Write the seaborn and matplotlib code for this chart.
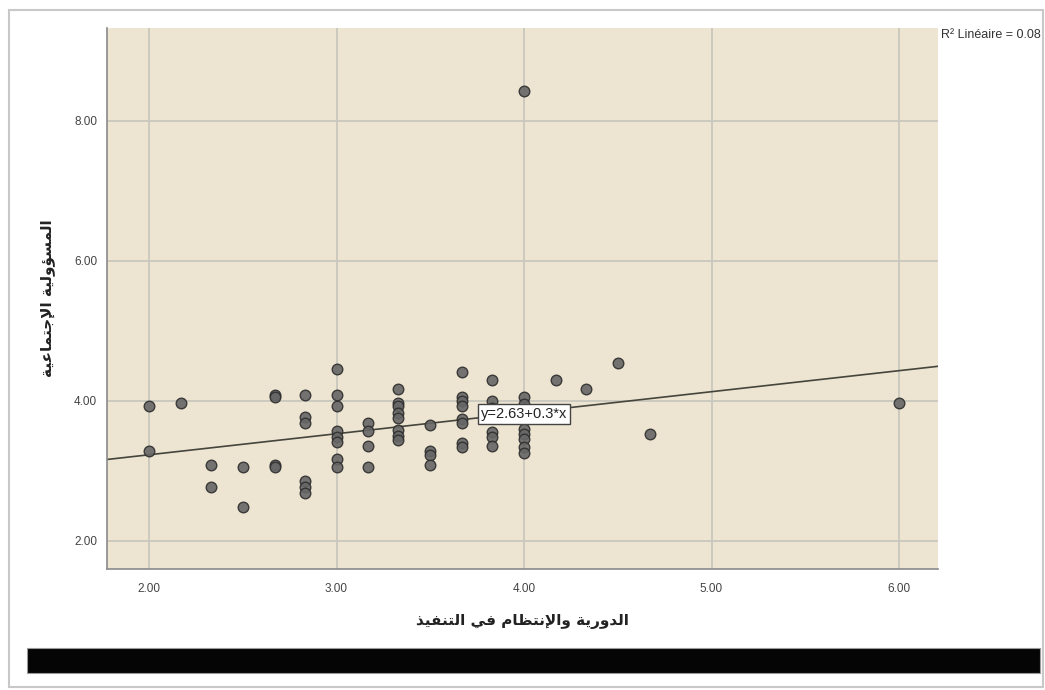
import numpy as np
import pandas as pd
import matplotlib
matplotlib.use("Agg")
import matplotlib.pyplot as plt
from matplotlib.patches import Rectangle
import seaborn as sns

# ---------------- data ----------------
x_values = [2.00, 2.00,
            2.17,
            2.33, 2.33,
            2.50, 2.50,
            2.67, 2.67, 2.67, 2.67,
            2.83, 2.83, 2.83, 2.83, 2.83, 2.83,
            3.00, 3.00, 3.00, 3.00, 3.00, 3.00, 3.00, 3.00,
            3.17, 3.17, 3.17, 3.17,
            3.33, 3.33, 3.33, 3.33, 3.33, 3.33, 3.33, 3.33,
            3.50, 3.50, 3.50, 3.50,
            3.67, 3.67, 3.67, 3.67, 3.67, 3.67, 3.67, 3.67,
            3.83, 3.83, 3.83, 3.83, 3.83, 3.83,
            4.00, 4.00, 4.00, 4.00, 4.00, 4.00, 4.00, 4.00, 4.00,
            4.17, 4.33, 4.50, 4.67, 6.00]
y_values = [3.92, 3.28,
            3.97,
            3.09, 2.77,
            3.05, 2.49,
            4.09, 4.05, 3.09, 3.05,
            4.09, 3.77, 3.69, 2.85, 2.77, 2.69,
            4.45, 4.09, 3.92, 3.57, 3.49, 3.41, 3.17, 3.05,
            3.69, 3.57, 3.36, 3.05,
            4.17, 3.97, 3.92, 3.83, 3.75, 3.58, 3.50, 3.44,
            3.65, 3.29, 3.22, 3.09,
            4.41, 4.06, 4.00, 3.92, 3.74, 3.68, 3.40, 3.34,
            4.29, 4.00, 3.90, 3.56, 3.49, 3.36,
            8.42, 4.05, 3.95, 3.87, 3.60, 3.53, 3.46, 3.34, 3.25,
            4.29, 4.17, 4.54, 3.53, 3.97]
fit_intercept = 2.63
fit_slope = 0.3
fit_label = "y=2.63+0.3*x"
r2_label = "R\u00b2 Lin\u00e9aire = 0.08"
x_ticks = [2.0, 3.0, 4.0, 5.0, 6.0]
y_ticks = [2.0, 4.0, 6.0, 8.0]
x_label_text = "الدورية والإنتظام في التنفيذ"
y_label_text = "المسؤولية الإجتماعية"

# ------------- minimal Arabic shaping (presentation forms) -------------
FORMS = {  # isolated, final, initial, medial
    '\u0627': ('\uFE8D', '\uFE8E', None, None),
    '\u0625': ('\uFE87', '\uFE88', None, None),
    '\u0623': ('\uFE83', '\uFE84', None, None),
    '\u0644': ('\uFEDD', '\uFEDE', '\uFEDF', '\uFEE0'),
    '\u062F': ('\uFEA9', '\uFEAA', None, None),
    '\u0630': ('\uFEAB', '\uFEAC', None, None),
    '\u0648': ('\uFEED', '\uFEEE', None, None),
    '\u0631': ('\uFEAD', '\uFEAE', None, None),
    '\u064A': ('\uFEF1', '\uFEF2', '\uFEF3', '\uFEF4'),
    '\u0629': ('\uFE93', '\uFE94', None, None),
    '\u0646': ('\uFEE5', '\uFEE6', '\uFEE7', '\uFEE8'),
    '\u062A': ('\uFE95', '\uFE96', '\uFE97', '\uFE98'),
    '\u0638': ('\uFEC5', '\uFEC6', '\uFEC7', '\uFEC8'),
    '\u0645': ('\uFEE1', '\uFEE2', '\uFEE3', '\uFEE4'),
    '\u0641': ('\uFED1', '\uFED2', '\uFED3', '\uFED4'),
    '\u0633': ('\uFEB1', '\uFEB2', '\uFEB3', '\uFEB4'),
    '\u0624': ('\uFE85', '\uFE86', None, None),
    '\u062C': ('\uFE9D', '\uFE9E', '\uFE9F', '\uFEA0'),
    '\u0639': ('\uFEC9', '\uFECA', '\uFECB', '\uFECC'),
}
LAM_ALEF = {'\u0627': ('\uFEFB', '\uFEFC'), '\u0625': ('\uFEF9', '\uFEFA'),
            '\u0623': ('\uFEF7', '\uFEF8')}


def joins_left(ch):
    return ch in FORMS and FORMS[ch][2] is not None


def shape(text):
    out = []
    i = 0
    n = len(text)
    while i < n:
        ch = text[i]
        if ch not in FORMS:
            out.append(ch)
            i += 1
            continue
        prev = text[i - 1] if i > 0 else ''
        prev_joins = joins_left(prev)
        if ch == '\u0644' and i + 1 < n and text[i + 1] in LAM_ALEF:
            out.append(LAM_ALEF[text[i + 1]][1 if prev_joins else 0])
            i += 2
            continue
        nxt = text[i + 1] if i + 1 < n else ''
        next_joins = joins_left(ch) and nxt in FORMS
        iso, fin, ini, med = FORMS[ch]
        if prev_joins and next_joins:
            out.append(med)
        elif prev_joins:
            out.append(fin)
        elif next_joins:
            out.append(ini)
        else:
            out.append(iso)
        i += 1
    return ''.join(out)[::-1]


# ---------------- figure ----------------
sns.set_theme(style="white")
plt.rcParams['font.family'] = ['Liberation Sans', 'DejaVu Sans']

W, H = 1045, 690
fig = plt.figure(figsize=(W / 100, H / 100), dpi=100)
fig.patch.set_facecolor("white")

# outer frame and black bar (figure decorations)
fig.add_artist(Rectangle((9 / W, 1 - 687 / H), (1043 - 9) / W, (687 - 10) / H,
                         transform=fig.transFigure, fill=False,
                         edgecolor="#c8c8c8", linewidth=1.5))
fig.add_artist(Rectangle((27 / W, 1 - 673 / H), (1040 - 27) / W, (673 - 648) / H,
                         transform=fig.transFigure, facecolor="#050505",
                         edgecolor="#9a9a9a", linewidth=0.8))

left, right, top, bottom = 107, 938, 28, 569
ax = fig.add_axes([left / W, 1 - bottom / H, (right - left) / W, (bottom - top) / H])
ax.set_facecolor("#ede5d1")

df = pd.DataFrame({"x": x_values, "y": y_values})

ax.set_xlim(1.776, 6.208)
ax.set_ylim(1.60, 9.32)
ax.set_xticks(x_ticks)
ax.set_yticks(y_ticks)
ax.set_xticklabels([f"{v:.2f}" for v in x_ticks])
ax.set_yticklabels([f"{v:.2f}" for v in y_ticks])
ax.grid(True, color="#c9c6bd", linewidth=1.3)
ax.set_axisbelow(True)

ax.axline((0, fit_intercept), slope=fit_slope, color="#45453d", linewidth=1.2, zorder=2)

sns.scatterplot(data=df, x="x", y="y", ax=ax, s=58, color="#666666",
                edgecolor="#2e2e2e", linewidth=1.0, alpha=0.9, zorder=3, legend=False)

ax.text(4.0, 3.81, fit_label, ha="center", va="center", fontsize=10.5,
        color="#222222", zorder=4,
        bbox=dict(boxstyle="square,pad=0.2", facecolor="white",
                  edgecolor="#444444", linewidth=1.0))

for side in ["top", "right"]:
    ax.spines[side].set_visible(False)
for side in ["left", "bottom"]:
    ax.spines[side].set_color("#8a8a8a")
    ax.spines[side].set_linewidth(1.2)

ax.tick_params(axis="both", length=0, labelsize=8.5, labelcolor="#444444")
ax.tick_params(axis="x", pad=10)
ax.tick_params(axis="y", pad=7)

ax.set_xlabel(shape(x_label_text), fontsize=11, fontweight="bold",
              family=["DejaVu Sans"], color="#222222", labelpad=14)
ax.set_ylabel(shape(y_label_text), fontsize=11, fontweight="bold",
              family=["DejaVu Sans"], color="#222222", labelpad=14)

fig.text(941 / W, 1 - 35 / H, r2_label, fontsize=9, color="#333333",
         ha="left", va="center")

fig.savefig("out.png", dpi=100)
